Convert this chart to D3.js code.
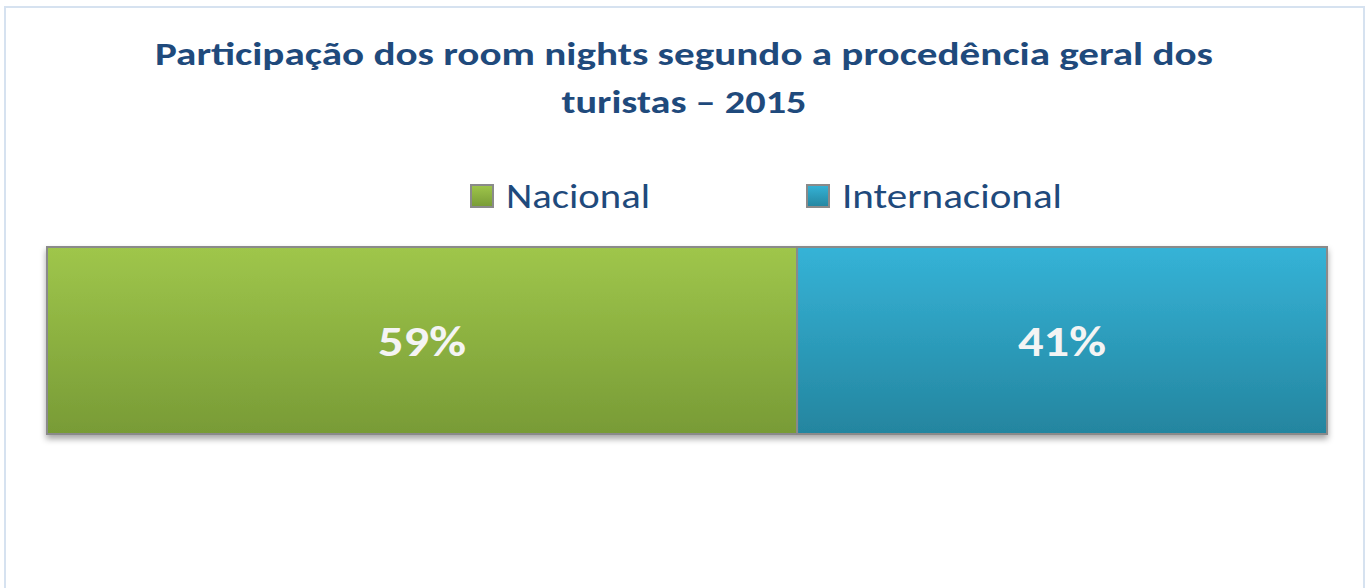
<!DOCTYPE html>
<html>
<head>
<meta charset="utf-8">
<script src="https://cdn.jsdelivr.net/npm/d3@7"></script>
<style>
  body { margin: 0; background: #fff; }
  svg { display: block; font-family: Carlito, Lato, "Open Sans", sans-serif; }
</style>
</head>
<body>
<svg width="1369" height="588"></svg>
<script>
// data
var categories = ['Nacional', 'Internacional'];
var shares = [58.6, 41.4];          // bar widths (labels rounded)
var titleLines = ['Participação dos room nights segundo a procedência geral dos',
                  'turistas – 2015'];

var colors = {
  Nacional: ['#9fc64b', '#789b36'],
  Internacional: ['#35b3d7', '#24859f']
};

// the original font is wider than the fallback, so widths are forced
var titleWidths = [1058, 245];
var legendWidths = [144, 220];
var labelWidths = [88, 88];

var svg = d3.select('svg');

var defs = svg.append('defs');
categories.forEach(function(c, i) {
  var g = defs.append('linearGradient')
    .attr('id', 'grad' + i)
    .attr('x1', 0).attr('y1', 0).attr('x2', 0).attr('y2', 1);
  g.append('stop').attr('offset', '0%').attr('stop-color', colors[c][0]);
  g.append('stop').attr('offset', '100%').attr('stop-color', colors[c][1]);
});
var f = defs.append('filter').attr('id', 'shadow')
  .attr('x', '-5%').attr('y', '-5%').attr('width', '110%').attr('height', '130%');
f.append('feDropShadow')
  .attr('dx', 0).attr('dy', 4).attr('stdDeviation', 3)
  .attr('flood-color', '#000').attr('flood-opacity', 0.35);

// chart frame
svg.append('rect')
  .attr('x', 5).attr('y', 7)
  .attr('width', 1359).attr('height', 600)
  .attr('fill', '#fff')
  .attr('stroke', '#d6e2f0')
  .attr('stroke-width', 2);

// title
svg.append('g')
  .selectAll('text')
  .data(titleLines)
  .enter().append('text')
  .attr('x', 684)
  .attr('y', function(d, i) { return 65 + i * 48; })
  .attr('text-anchor', 'middle')
  .attr('fill', '#1f4a7c')
  .attr('font-weight', 'bold')
  .attr('font-size', 33)
  .attr('textLength', function(d, i) { return titleWidths[i]; })
  .attr('lengthAdjust', 'spacingAndGlyphs')
  .text(function(d) { return d; });

// scales
var x = d3.scaleLinear().domain([0, 100]).range([47, 1327]);
var y = d3.scaleBand().domain(['2015']).range([247, 434]).padding(0);

var stacked = [];
var acc = 0;
shares.forEach(function(v, i) {
  stacked.push({cat: categories[i], v: v, x0: acc, x1: acc + v, i: i});
  acc += v;
});

// bars
svg.append('g').attr('filter', 'url(#shadow)')
  .selectAll('rect')
  .data(stacked)
  .enter().append('rect')
  .attr('x', function(d) { return x(d.x0); })
  .attr('y', y('2015'))
  .attr('width', function(d) { return x(d.x1) - x(d.x0); })
  .attr('height', y.bandwidth())
  .attr('fill', function(d) { return 'url(#grad' + d.i + ')'; })
  .attr('stroke', '#8a8a8a')
  .attr('stroke-width', 2);

// value labels
var fmt = function(v) { return Math.round(v) + '%'; };
svg.append('g')
  .selectAll('text')
  .data(stacked)
  .enter().append('text')
  .attr('x', function(d) { return (x(d.x0) + x(d.x1)) / 2; })
  .attr('y', y('2015') + y.bandwidth() / 2 + 15)
  .attr('text-anchor', 'middle')
  .attr('fill', '#f4f4f4')
  .attr('font-weight', 'bold')
  .attr('font-size', 42)
  .attr('textLength', function(d) { return labelWidths[d.i]; })
  .attr('lengthAdjust', 'spacingAndGlyphs')
  .text(function(d) { return fmt(d.v); });

// legend
var legendX = [470, 806];
var leg = svg.append('g')
  .selectAll('g')
  .data(categories)
  .enter().append('g')
  .attr('transform', function(d, i) { return 'translate(' + legendX[i] + ',184)'; });
leg.append('rect')
  .attr('x', 1).attr('y', 1)
  .attr('width', 22).attr('height', 22)
  .attr('fill', function(d, i) { return 'url(#grad' + i + ')'; })
  .attr('stroke', '#8a8a8a')
  .attr('stroke-width', 2);
leg.append('text')
  .attr('x', function(d, i) { return i === 0 ? 36 : 36; })
  .attr('y', 24)
  .attr('fill', '#1f4a7c')
  .attr('font-size', 35)
  .attr('textLength', function(d, i) { return legendWidths[i]; })
  .attr('lengthAdjust', 'spacingAndGlyphs')
  .text(function(d) { return d; });
</script>
</body>
</html>
